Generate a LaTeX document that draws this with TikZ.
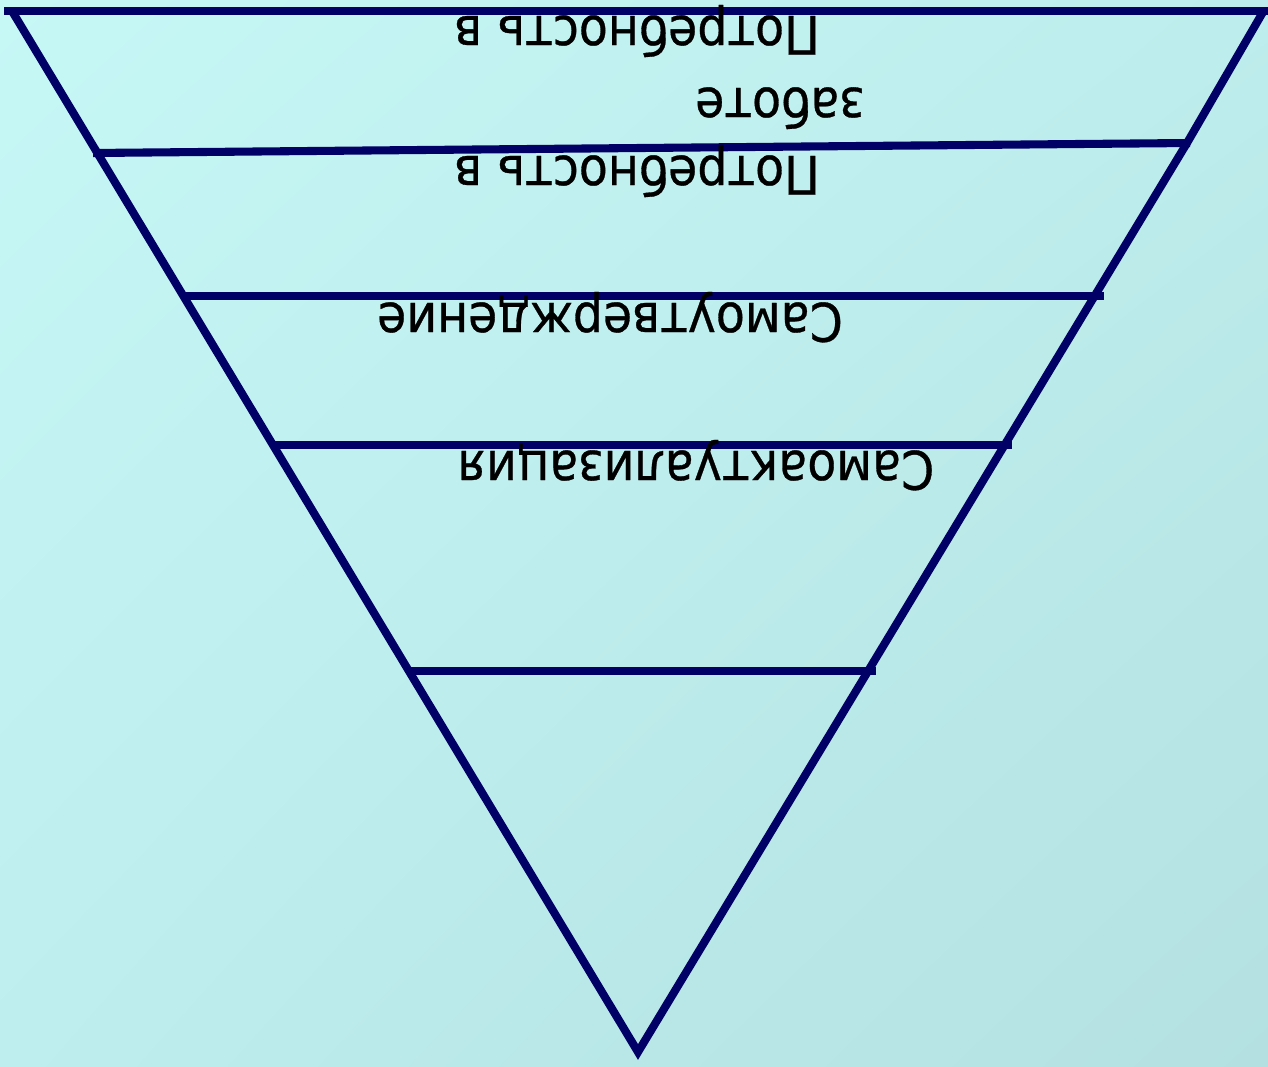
\documentclass[tikz,border=0pt]{standalone}
\usepackage{fontspec}
\setmainfont{DejaVu Sans}
\newfontfamily\lblfont[FakeBold=0.6]{DejaVu Sans}
\usetikzlibrary{shadings}
\definecolor{bgUL}{HTML}{C6F8F6}
\definecolor{bgUR}{HTML}{BDEDEC}
\definecolor{bgLL}{HTML}{BEEEEE}
\definecolor{bgLR}{HTML}{B4E0E1}
\definecolor{navy}{HTML}{000066}
\newcommand{\tall}[1]{\scalebox{1}[1.12]{#1}}
\begin{document}
\begin{tikzpicture}[x=0.02cm,y=-0.02cm,
  edge/.style={draw=navy,line width=4.6pt,line cap=butt,line join=miter},
  lbl/.style={rotate=180,anchor=base,inner sep=0pt,font=\lblfont\fontsize{27}{32}\selectfont,text=black}]
\useasboundingbox (0,0) rectangle (1268,1067);
\shade[upper left=bgUL,upper right=bgUR,lower left=bgLL,lower right=bgLR] (0,0) rectangle (1268,1067);
% vertices
\coordinate (tl) at (12,11);
\coordinate (tr) at (1263,12);
\coordinate (kr) at (1187,143);
\coordinate (bot) at (638,1052);
% sides
\draw[edge] (4,11) -- (1268,11);
\draw[edge] (tl) -- (bot) -- (kr) -- (tr);
% level lines
\coordinate (a1) at (93,153);   \coordinate (b1) at (1190,143);
\coordinate (a2) at (183,296);  \coordinate (b2) at (1104,296);
\coordinate (a3) at (271,445);  \coordinate (b3) at (1012,445);
\coordinate (a4) at (408,671);  \coordinate (b4) at (876,671);
\draw[edge] (a1) -- (b1);
\draw[edge] (a2) -- (b2);
\draw[edge] (a3) -- (b3);
\draw[edge] (a4) -- (b4);
% labels (upside down)
\node[lbl] (t1) at (637,16) {\tall{Потребность в}};
\node[lbl] (t2) at (780,88) {\tall{заботе}};
\node[lbl] (t3) at (637,156) {\tall{Потребность в}};
\node[lbl] (t4) at (610,303) {\tall{Самоутверждение}};
\node[lbl] (t5) at (696,451) {\tall{Самоактуализация}};
\end{tikzpicture}
\end{document}
